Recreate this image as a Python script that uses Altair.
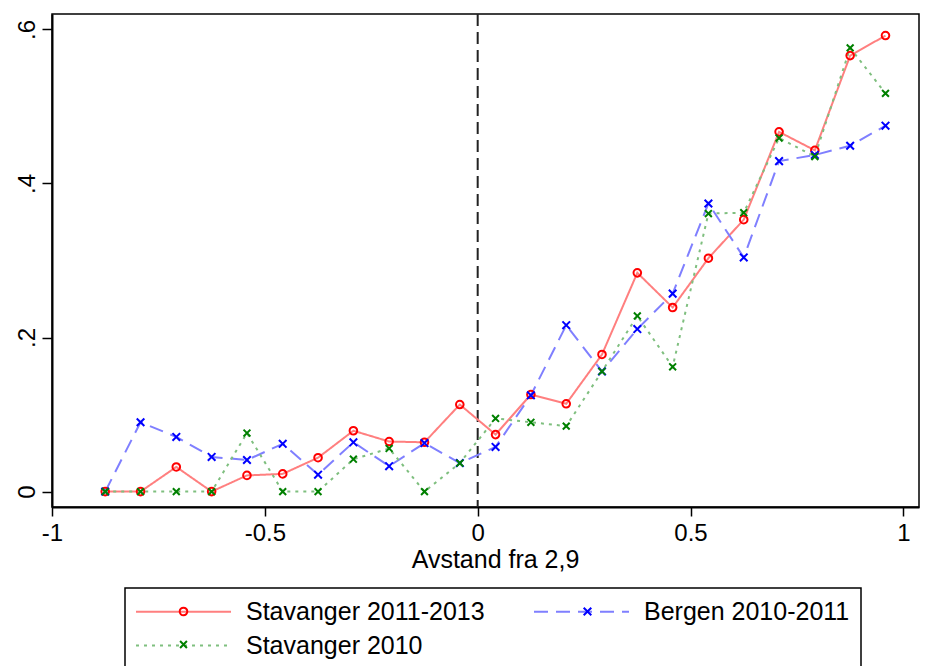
import altair as alt
import pandas as pd

# ---- data ----
x_vals = [-0.875, -0.792, -0.708, -0.625, -0.542, -0.458, -0.375, -0.292, -0.208, -0.125, -0.042,
          0.042, 0.125, 0.208, 0.292, 0.375, 0.458, 0.542, 0.625, 0.708, 0.792, 0.875, 0.958]
stavanger_1113 = [0, 0, 0.032, 0, 0.021, 0.023, 0.044, 0.079, 0.065, 0.064, 0.113,
                  0.074, 0.126, 0.114, 0.178, 0.284, 0.239, 0.303, 0.353, 0.467, 0.443, 0.566, 0.592]
bergen_1011 = [0, 0.090, 0.071, 0.045, 0.041, 0.062, 0.022, 0.064, 0.033, 0.063, 0.037,
               0.058, 0.125, 0.216, 0.156, 0.211, 0.257, 0.374, 0.304, 0.429, 0.437, 0.449, 0.475]
stavanger_2010 = [0, 0, 0, 0, 0.076, 0, 0, 0.042, 0.056, 0, 0.037,
                  0.095, 0.090, 0.085, 0.156, 0.228, 0.162, 0.361, 0.362, 0.459, 0.435, 0.576, 0.517]

series = ["Stavanger 2011-2013", "Bergen 2010-2011", "Stavanger 2010"]
# legend fills column by column: this order gives rows "S 2011-2013 | Bergen" / "S 2010"
legend_order = ["Stavanger 2011-2013", "Stavanger 2010", "Bergen 2010-2011"]
x_ticks = [-1, -0.5, 0, 0.5, 1]
y_ticks = [0, 0.2, 0.4, 0.6]
cutoff = [0]

# ---- styles (in legend_order) ----
line_colors = ["#ff7f7f", "#7fbf7f", "#7f7fff"]
marker_colors = ["#ff0000", "#008000", "#0000ff"]
dashes = [[1, 0], [3, 5], [14, 8]]
# invisible move-to points give the marker legend the same entry box as the line legend
pre = "M-5,-1.21M31.88,1.21"
r, k = 0.40, 0.221
circle_path = (f"{pre}M{r},0C{r},{k} {k},{r} 0,{r}C-{k},{r} -{r},{k} -{r},0"
               f"C-{r},-{k} -{k},-{r} 0,-{r}C{k},-{r} {r},-{k} {r},0Z")
def xpath(h):
    return f"{pre}M-{h},-{h}L{h},{h}M-{h},{h}L{h},-{h}"
shapes = [circle_path, xpath(0.36), xpath(0.40)]

FONT = "Liberation Sans"
ZW = "\u200b"

rows = []
for name, vals in zip(series, [stavanger_1113, bergen_1011, stavanger_2010]):
    for xv, yv in zip(x_vals, vals):
        rows.append({"x": xv, "y": yv, "series": name, "series_pt": name + ZW})
df = pd.DataFrame(rows)
pt_domain = [s + ZW for s in legend_order]

xscale = alt.Scale(domain=[-1, 1.0367], nice=False, zero=False)
yscale = alt.Scale(domain=[-0.02, 0.62], nice=False, zero=False)

xaxis = alt.Axis(values=x_ticks, labelExpr="'' + datum.value", grid=False, tickSize=9,
                 labelPadding=5, labelFontSize=24, labelFont=FONT, labelColor="black",
                 labelFlush=False, title="Avstand fra 2,9", titleFontSize=25, titleFont=FONT,
                 titleFontWeight="normal", titleColor="black", titleY=40, titleX=443,
                 titleBaseline="top", domainColor="black", domainWidth=2, tickColor="black",
                 tickWidth=1.5)
yaxis = alt.Axis(values=y_ticks, labelExpr="replace('' + datum.value, '0.', '.')", grid=False,
                 tickSize=10, labelPadding=8, labelFontSize=24, labelFont=FONT,
                 labelColor="black", labelAngle=270, labelAlign="center",
                 labelBaseline="alphabetic", labelFlush=False, title=None, domainColor="black",
                 domainWidth=2, tickColor="black", tickWidth=1.5)

common_legend = dict(title=None, orient="none", legendX=73, legendY=574, columns=2,
                     columnPadding=45, padding=11, symbolSize=361,
                     symbolStrokeWidth=2, symbolOffset=35, labelOffset=50, labelFontSize=25,
                     labelFont=FONT, labelColor="black", labelLimit=500, symbolOpacity=1)

line_legend = alt.Legend(symbolType="M-5,0H5", strokeColor="black", rowPadding=8,
                         **common_legend)
point_legend = alt.Legend(labelExpr="''", rowPadding=2, **common_legend)

base = alt.Chart(df)

lines = base.mark_line(strokeWidth=2).encode(
    x=alt.X("x:Q", scale=xscale, axis=xaxis),
    y=alt.Y("y:Q", scale=yscale, axis=yaxis),
    color=alt.Color("series:N", scale=alt.Scale(domain=legend_order, range=line_colors),
                    legend=line_legend),
    strokeDash=alt.StrokeDash("series:N", scale=alt.Scale(domain=legend_order, range=dashes),
                              legend=line_legend),
)

points = base.mark_point(filled=False, size=361, strokeWidth=2, opacity=1).encode(
    x="x:Q",
    y="y:Q",
    stroke=alt.Stroke("series_pt:N", scale=alt.Scale(domain=pt_domain, range=marker_colors),
                      legend=point_legend),
    shape=alt.Shape("series_pt:N", scale=alt.Scale(domain=pt_domain, range=shapes),
                    legend=point_legend),
)

rule = alt.Chart(pd.DataFrame({"x": cutoff})).mark_rule(
    color="#222222", strokeWidth=2, strokeDash=[12, 6]).encode(x="x:Q")

chart = alt.layer(rule, lines, points).properties(
    width=867, height=493,
    autosize="none",
    padding={"left": 44, "top": 6, "right": 1, "bottom": 159},
    background="white",
).configure_view(stroke="black", strokeWidth=1.5).configure_legend(strokeWidth=1.5)

chart.save("out.html", embed_options={"renderer": "svg", "actions": False})
